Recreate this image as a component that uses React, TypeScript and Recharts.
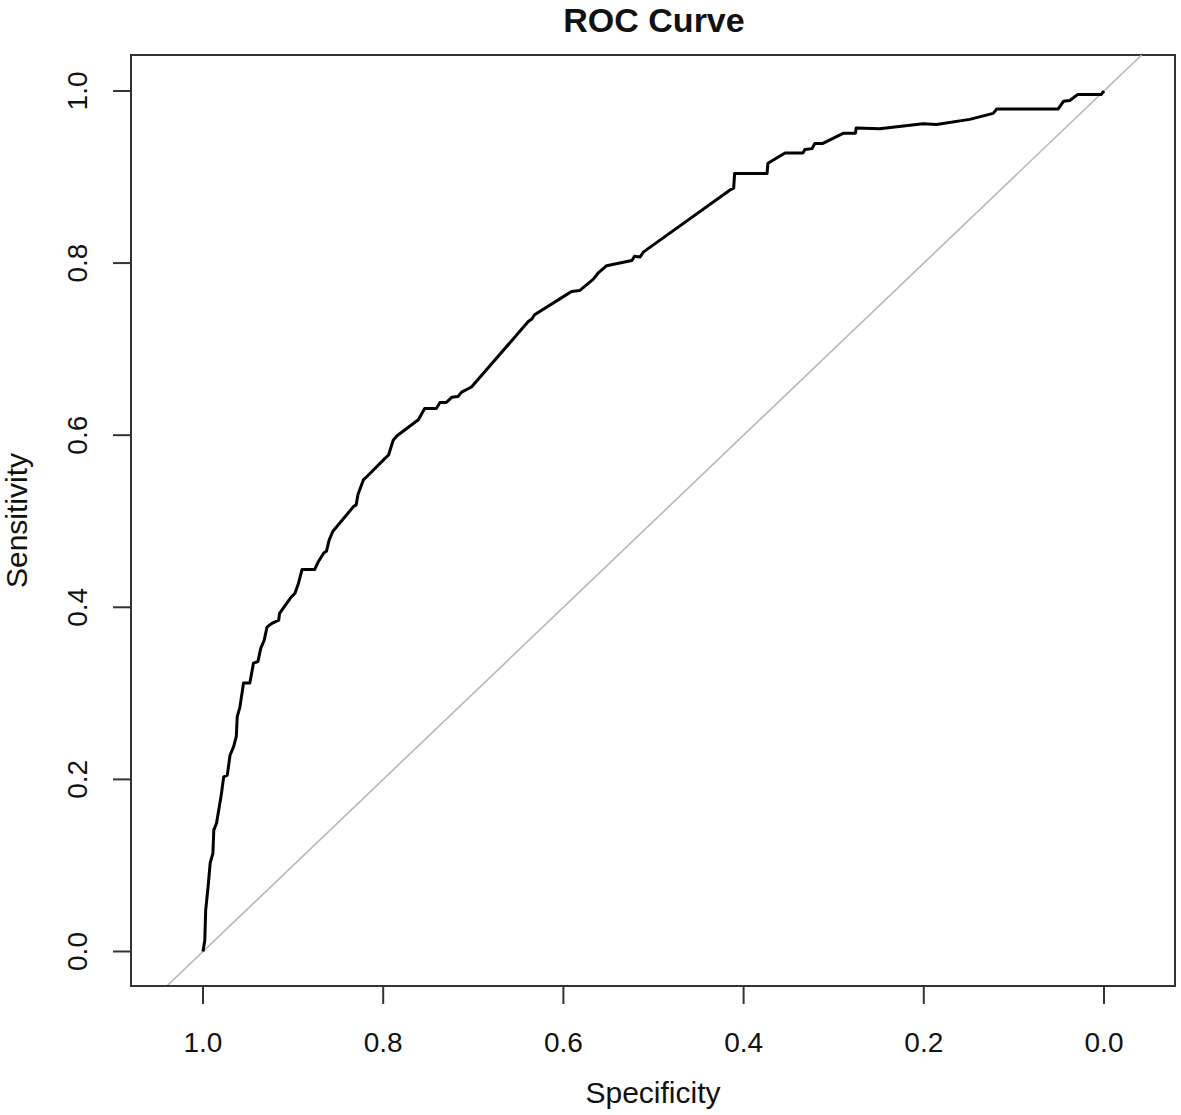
import React from 'react';
import { LineChart, Line, XAxis, YAxis, ReferenceLine, ReferenceArea } from 'recharts';

// ROC curve points, ordered from specificity 1 to 0
const specificity = [
  1.0, 0.998, 0.997, 0.994, 0.992, 0.989, 0.988, 0.985, 0.98, 0.977, 0.973, 0.97, 0.966, 0.963, 0.962, 0.959,
  0.955, 0.948, 0.944, 0.939, 0.936, 0.932, 0.929, 0.924, 0.916, 0.915, 0.902, 0.898, 0.894, 0.89, 0.876, 0.872,
  0.866, 0.863, 0.86, 0.856, 0.833, 0.83, 0.828, 0.822, 0.818, 0.798, 0.794, 0.789, 0.785, 0.761, 0.754, 0.741,
  0.737, 0.73, 0.724, 0.717, 0.713, 0.702, 0.639, 0.635, 0.632, 0.6, 0.591, 0.582, 0.567, 0.561, 0.552, 0.524,
  0.521, 0.515, 0.511, 0.415, 0.411, 0.41, 0.374, 0.373, 0.354, 0.334, 0.332, 0.324, 0.321, 0.312, 0.289, 0.276,
  0.275, 0.249, 0.201, 0.186, 0.149, 0.123, 0.119, 0.051, 0.045, 0.038, 0.029, 0.003, 0.0,
];
const sensitivity = [
  0.0, 0.013, 0.048, 0.079, 0.103, 0.114, 0.141, 0.149, 0.18, 0.203, 0.205, 0.228, 0.238, 0.25, 0.273, 0.284,
  0.312, 0.312, 0.335, 0.337, 0.352, 0.362, 0.377, 0.381, 0.385, 0.393, 0.412, 0.416, 0.428, 0.444, 0.444, 0.453,
  0.463, 0.465, 0.478, 0.488, 0.517, 0.519, 0.531, 0.548, 0.552, 0.573, 0.577, 0.594, 0.599, 0.618, 0.631, 0.631,
  0.638, 0.638, 0.644, 0.645, 0.65, 0.656, 0.732, 0.735, 0.74, 0.761, 0.767, 0.768, 0.781, 0.789, 0.797, 0.803,
  0.808, 0.807, 0.813, 0.885, 0.887, 0.904, 0.904, 0.916, 0.928, 0.928, 0.932, 0.933, 0.939, 0.939, 0.951, 0.951,
  0.957, 0.956, 0.962, 0.961, 0.967, 0.974, 0.979, 0.979, 0.988, 0.989, 0.996, 0.996, 1.0,
];

const tickValues = [0, 0.2, 0.4, 0.6, 0.8, 1.0];
const tickLabels = ['0.0', '0.2', '0.4', '0.6', '0.8', '1.0'];

const X_MIN = -0.0788;
const X_MAX = 1.0799;
const Y_MIN = -0.0401;
const Y_MAX = 1.0418;

const data = specificity.map((s, i) => ({ spec: s, sens: sensitivity[i] }));

const FONT = '"Liberation Sans", Arial, Helvetica, sans-serif';
const AXIS_COLOR = '#333';

const fmt = (v: number) => {
  const i = tickValues.findIndex((t) => Math.abs(t - v) < 1e-9);
  return i >= 0 ? tickLabels[i] : v.toFixed(1);
};

const XTick = (props: any) => {
  const { x, y, payload } = props;
  return (
    <text x={x} y={y + 46} textAnchor="middle" fontSize={28} fontFamily={FONT} fill="#111">
      {fmt(payload.value)}
    </text>
  );
};

const YTick = (props: any) => {
  const { x, y, payload } = props;
  const bx = x - 24;
  return (
    <text
      x={bx}
      y={y}
      transform={`rotate(-90, ${bx}, ${y})`}
      textAnchor="middle"
      fontSize={28}
      fontFamily={FONT}
      fill="#111"
    >
      {fmt(payload.value)}
    </text>
  );
};

const XTitle = (props: any) => {
  const vb = props.viewBox || {};
  const cx = vb.x + vb.width / 2;
  return (
    <text x={cx} y={vb.y + 117} textAnchor="middle" fontSize={30} fontFamily={FONT} fill="#111">
      Specificity
    </text>
  );
};

const YTitle = (props: any) => {
  const vb = props.viewBox || {};
  const cy = vb.y + vb.height / 2;
  const bx = 27;
  return (
    <text
      x={bx}
      y={cy}
      transform={`rotate(-90, ${bx}, ${cy})`}
      textAnchor="middle"
      fontSize={30}
      fontFamily={FONT}
      fill="#111"
    >
      Sensitivity
    </text>
  );
};

export default function App() {
  return (
    <div style={{ position: 'absolute', left: 0, top: 0, width: 1181, height: 1115, background: '#fff' }}>
      <LineChart
        width={1181}
        height={1115}
        data={data}
        margin={{ top: 55, right: 6, bottom: 0, left: 0 }}
      >
        <text x={654} y={32} textAnchor="middle" fontSize={34} fontWeight="bold" fontFamily={FONT} fill="#111">
          ROC Curve
        </text>
        <XAxis
          dataKey="spec"
          type="number"
          domain={[X_MIN, X_MAX]}
          allowDataOverflow
          reversed
          ticks={tickValues}
          tick={<XTick />}
          tickSize={18}
          tickLine={{ stroke: AXIS_COLOR, strokeWidth: 2 }}
          axisLine={{ stroke: AXIS_COLOR, strokeWidth: 2 }}
          height={129}
          interval={0}
          label={{ content: <XTitle /> }}
        />
        <YAxis
          dataKey="sens"
          type="number"
          domain={[Y_MIN, Y_MAX]}
          allowDataOverflow
          ticks={tickValues}
          tick={<YTick />}
          tickSize={18}
          tickLine={{ stroke: AXIS_COLOR, strokeWidth: 2 }}
          axisLine={{ stroke: AXIS_COLOR, strokeWidth: 2 }}
          width={131}
          interval={0}
          label={{ content: <YTitle /> }}
        />
        <ReferenceArea
          x1={X_MIN}
          x2={X_MAX}
          y1={Y_MIN}
          y2={Y_MAX}
          fill="none"
          fillOpacity={0}
          stroke={AXIS_COLOR}
          strokeWidth={2}
          ifOverflow="visible"
        />
        <ReferenceLine
          segment={[
            { x: 1 - Y_MIN, y: Y_MIN },
            { x: 1 - Y_MAX, y: Y_MAX },
          ]}
          stroke="#b8b8b8"
          strokeWidth={1.6}
          ifOverflow="hidden"
        />
        <Line
          type="linear"
          dataKey="sens"
          stroke="#000"
          strokeWidth={3}
          strokeLinejoin="round"
          dot={false}
          activeDot={false}
          isAnimationActive={false}
        />
      </LineChart>
    </div>
  );
}
